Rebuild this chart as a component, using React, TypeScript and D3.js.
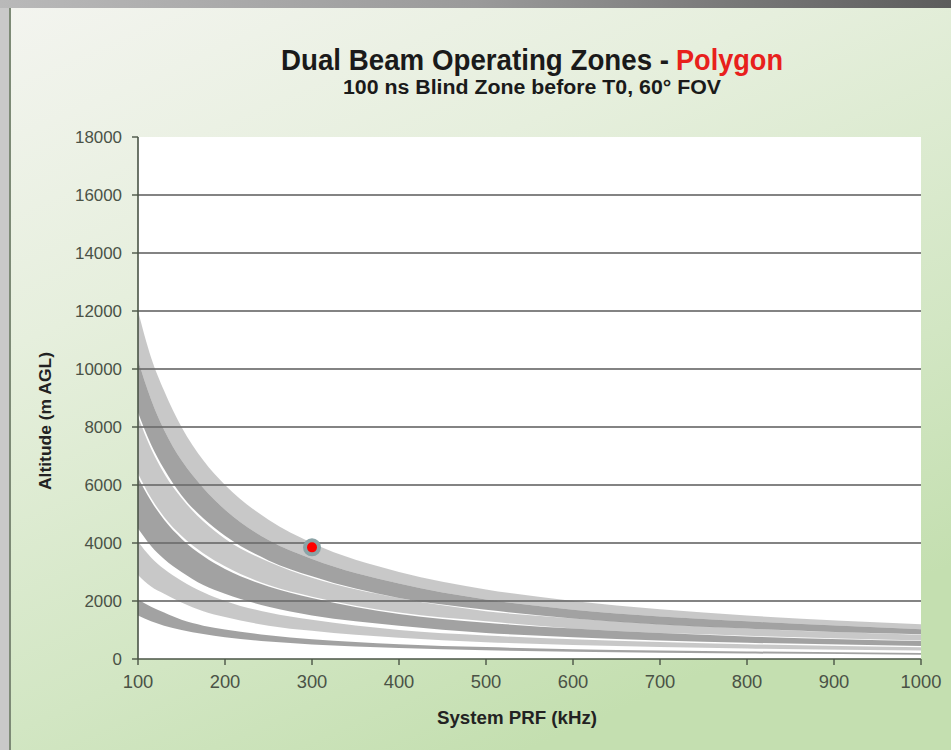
import React from "react";
import * as d3 from "d3";

// PRF sample points (kHz) at which each zone boundary is listed
const prfSamples = [100, 115, 130, 150, 175, 200, 250, 300, 400, 500, 600, 800, 1000];

// Zone boundaries: altitude (m AGL) at each PRF sample
const zoneATop = [12000, 10400, 9250, 8000, 6850, 6000, 4800, 4000, 3000, 2400, 2000, 1500, 1200];
const zoneABottom = [10300, 8950, 7900, 6850, 5900, 5150, 4100, 3450, 2600, 2050, 1700, 1300, 1030];
const zoneBTop = [10300, 8950, 7900, 6850, 5900, 5150, 4100, 3450, 2600, 2050, 1700, 1300, 1030];
const zoneBBottom = [8500, 7400, 6550, 5650, 4850, 4250, 3400, 2850, 2100, 1700, 1400, 1050, 850];
const zoneCTop = [8350, 7250, 6400, 5550, 4750, 4150, 3350, 2800, 2100, 1650, 1400, 1050, 835];
const zoneCBottom = [6400, 5550, 4900, 4250, 3650, 3200, 2550, 2150, 1600, 1300, 1050, 800, 640];
const zoneDTop = [6250, 5450, 4800, 4150, 3550, 3100, 2500, 2100, 1550, 1250, 1050, 780, 625];
const zoneDBottom = [4500, 3900, 3450, 3000, 2550, 2250, 1800, 1500, 1150, 900, 750, 560, 450];
const zoneETop = [4050, 3500, 3100, 2700, 2300, 2000, 1600, 1350, 1000, 810, 680, 510, 405];
const zoneEBottom = [2900, 2500, 2250, 1950, 1650, 1450, 1150, 970, 730, 580, 480, 360, 290];
const zoneFTop = [2050, 1800, 1600, 1350, 1150, 1020, 820, 680, 510, 410, 340, 260, 205];
const zoneFBottom = [1500, 1300, 1150, 1000, 860, 750, 600, 500, 380, 300, 250, 190, 150];

const zones = [
  { top: zoneATop, bottom: zoneABottom, tone: "light" },
  { top: zoneBTop, bottom: zoneBBottom, tone: "dark" },
  { top: zoneCTop, bottom: zoneCBottom, tone: "light" },
  { top: zoneDTop, bottom: zoneDBottom, tone: "dark" },
  { top: zoneETop, bottom: zoneEBottom, tone: "light" },
  { top: zoneFTop, bottom: zoneFBottom, tone: "dark" },
];

const xTicks = [100, 200, 300, 400, 500, 600, 700, 800, 900, 1000];
const yTicks = [0, 2000, 4000, 6000, 8000, 10000, 12000, 14000, 16000, 18000];
const gridValues = [2000, 4000, 6000, 8000, 10000, 12000, 14000, 16000];

// Marked operating point
const markerPrf = [300];
const markerAltitude = [3850];

const W = 951;
const H = 750;
const plot = { left: 138, right: 921, top: 137, bottom: 659 };

export default function App() {
  const x = d3.scaleLinear().domain([100, 1000]).range([plot.left, plot.right]);
  const y = d3.scaleLinear().domain([0, 18000]).range([plot.bottom, plot.top]);

  const area = d3
    .area<number>()
    .x((_, i) => x(prfSamples[i]))
    .curve(d3.curveMonotoneX);

  const labelColor = "#4a5246";

  return (
    <svg
      width={W}
      height={H}
      style={{ position: "absolute", left: 0, top: 0 }}
      fontFamily="'Liberation Sans', Arial, sans-serif"
    >
      <defs>
        <linearGradient id="panelBg" x1="0" y1="0" x2="0.55" y2="1">
          <stop offset="0" stopColor="#f3f4ef" />
          <stop offset="0.35" stopColor="#e6efdd" />
          <stop offset="0.75" stopColor="#d2e6c3" />
          <stop offset="1" stopColor="#c4dfb0" />
        </linearGradient>
        <linearGradient id="chrome" x1="0" y1="0" x2="1" y2="0">
          <stop offset="0" stopColor="#b9b9b9" />
          <stop offset="0.5" stopColor="#9a9a9a" />
          <stop offset="1" stopColor="#5c5c5c" />
        </linearGradient>
      </defs>

      <rect x={0} y={0} width={W} height={H} fill="#c9c9c9" />
      <rect x={0} y={0} width={W} height={8} fill="url(#chrome)" />
      <rect x={10} y={8} width={W - 10} height={H - 8} fill="url(#panelBg)" />
      <line x1={10} y1={8} x2={10} y2={H} stroke="#7d8a76" strokeWidth={2} />

      {/* Title */}
      <text
        x={281}
        y={70}
        fontSize={29}
        fontWeight="bold"
        fill="#1a1a1a"
        textLength={388}
        lengthAdjust="spacingAndGlyphs"
      >
        Dual Beam  Operating Zones -
      </text>
      <text
        x={676}
        y={70}
        fontSize={29}
        fontWeight="bold"
        fill="#e8201c"
        textLength={107}
        lengthAdjust="spacingAndGlyphs"
      >
        Polygon
      </text>
      <text
        x={532}
        y={94}
        textAnchor="middle"
        fontSize={20}
        fontWeight="bold"
        fill="#1a1a1a"
        textLength={378}
        lengthAdjust="spacingAndGlyphs"
      >
        100 ns Blind Zone before T0, 60° FOV
      </text>

      {/* Plot area */}
      <rect
        x={plot.left}
        y={plot.top}
        width={plot.right - plot.left}
        height={plot.bottom - plot.top}
        fill="#ffffff"
      />

      {gridValues.map((v) => (
        <line
          key={v}
          x1={plot.left}
          x2={plot.right}
          y1={y(v)}
          y2={y(v)}
          stroke="#5a5a5a"
          strokeWidth={1.5}
        />
      ))}

      {zones.map((z, i) => (
        <path
          key={i}
          d={
            area
              .y0((_, j) => y(z.bottom[j]))
              .y1((_, j) => y(z.top[j]))(prfSamples) || ""
          }
          fill="#6e6e6e"
          fillOpacity={z.tone === "light" ? 0.38 : 0.64}
        />
      ))}

      {/* Axes */}
      <line x1={plot.left} x2={plot.left} y1={plot.top} y2={plot.bottom} stroke="#4a5446" strokeWidth={1.6} />
      <line x1={plot.left} x2={plot.right} y1={plot.bottom} y2={plot.bottom} stroke="#4a5446" strokeWidth={1.6} />

      {yTicks.map((v) => {
        const s = String(v);
        return (
          <g key={v}>
            <line x1={plot.left - 6} x2={plot.left} y1={y(v)} y2={y(v)} stroke="#4a5446" strokeWidth={1.4} />
            <text
              x={plot.left - 16}
              y={y(v)}
              dy="0.36em"
              textAnchor="end"
              fontSize={17}
              fill={labelColor}
              textLength={s.length * 9.4}
              lengthAdjust="spacingAndGlyphs"
            >
              {s}
            </text>
          </g>
        );
      })}

      {xTicks.map((v) => {
        const s = String(v);
        return (
          <g key={v}>
            <line x1={x(v)} x2={x(v)} y1={plot.bottom} y2={plot.bottom + 6} stroke="#4a5446" strokeWidth={1.4} />
            <text
              x={x(v)}
              y={688}
              textAnchor="middle"
              fontSize={18}
              fill={labelColor}
              textLength={s.length * 10.2}
              lengthAdjust="spacingAndGlyphs"
            >
              {s}
            </text>
          </g>
        );
      })}

      <text
        x={517}
        y={724}
        textAnchor="middle"
        fontSize={18}
        fontWeight="bold"
        fill="#222"
        textLength={160}
        lengthAdjust="spacingAndGlyphs"
      >
        System PRF (kHz)
      </text>
      <text
        transform="translate(51,421) rotate(-90)"
        textAnchor="middle"
        fontSize={17}
        fontWeight="bold"
        fill="#222"
        textLength={138}
        lengthAdjust="spacingAndGlyphs"
      >
        Altitude (m AGL)
      </text>

      {markerPrf.map((p, i) => (
        <g key={i}>
          <circle cx={x(p)} cy={y(markerAltitude[i])} r={9} fill="#8ba3a6" />
          <circle cx={x(p)} cy={y(markerAltitude[i])} r={5} fill="#ff0000" />
        </g>
      ))}
    </svg>
  );
}
